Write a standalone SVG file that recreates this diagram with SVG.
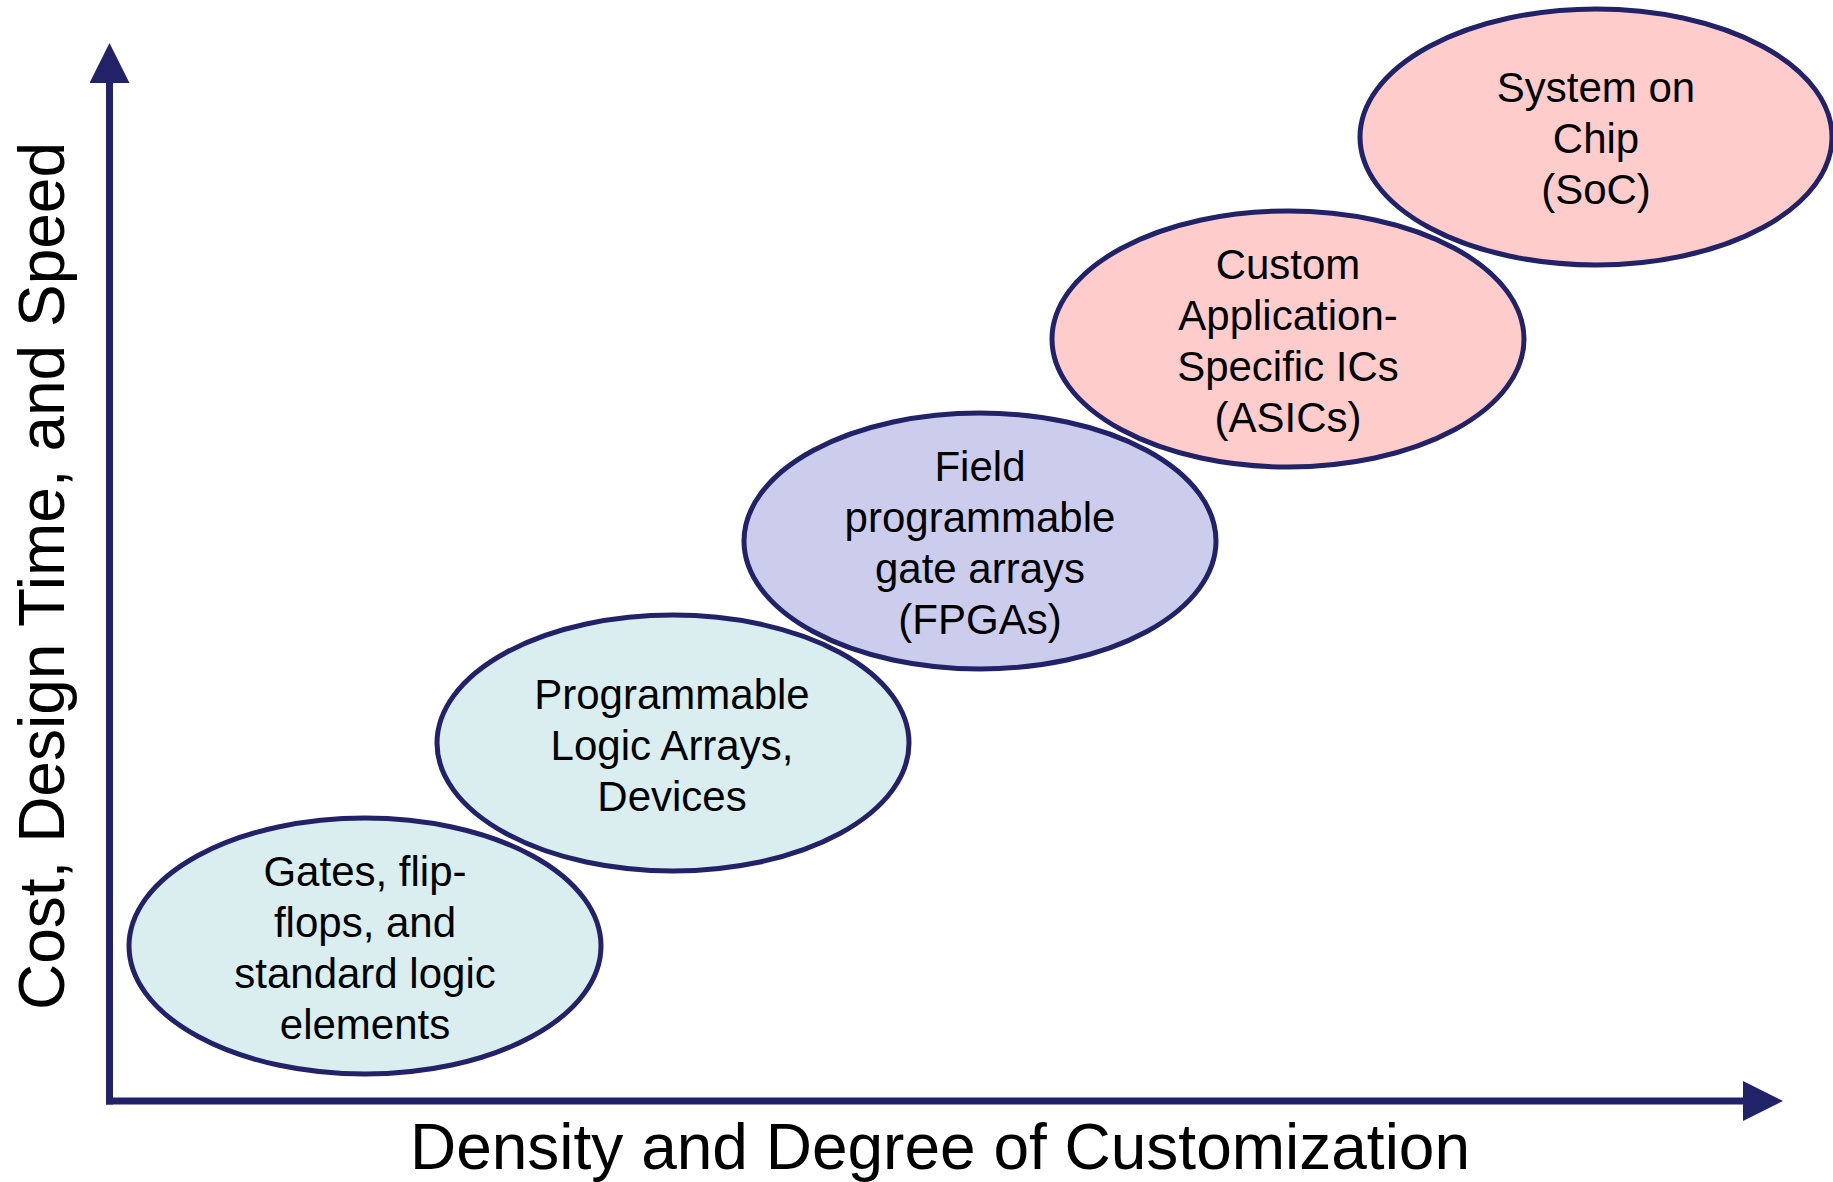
<svg xmlns="http://www.w3.org/2000/svg" width="1833" height="1182" viewBox="0 0 1833 1182">
<style>
.node ellipse{stroke:#222268;stroke-width:5}
.blue{fill:#DAEDEF}
.lav{fill:#CCCCEC}
.pink{fill:#FFCCCC}
.lbl{font-family:"Liberation Sans",Arial,sans-serif;font-size:42px;fill:#000;text-anchor:middle}
.axis{font-family:"Liberation Sans",Arial,sans-serif;font-size:64px;fill:#000;text-anchor:middle}
.ax{stroke:#222268;stroke-width:7;fill:none}
</style>
<defs>
<marker id="arr" markerUnits="userSpaceOnUse" markerWidth="40" markerHeight="40" refX="0" refY="20" orient="auto" viewBox="0 0 40 40">
<path d="M0,0 L40,20 L0,40 z" fill="#222268"/>
</marker>
</defs>
<rect width="1833" height="1182" fill="#fff"/>
<g id="connectors">
<line class="ax" x1="109.5" y1="1104.5" x2="109.5" y2="83" marker-end="url(#arr)"/>
<line class="ax" x1="106" y1="1101" x2="1743" y2="1101" marker-end="url(#arr)"/>
</g>
<g id="node-gates" class="node">
<ellipse class="blue" cx="365" cy="946" rx="236" ry="128"/>
<text class="lbl"><tspan x="365" y="886">Gates, flip-</tspan><tspan x="365" y="937">flops, and</tspan><tspan x="365" y="988">standard logic</tspan><tspan x="365" y="1039">elements</tspan></text>
</g>
<g id="node-pla" class="node">
<ellipse class="blue" cx="673" cy="743" rx="236" ry="128"/>
<text class="lbl"><tspan x="672" y="709">Programmable</tspan><tspan x="672" y="760">Logic Arrays,</tspan><tspan x="672" y="811">Devices</tspan></text>
</g>
<g id="node-fpga" class="node">
<ellipse class="lav" cx="980" cy="541" rx="236" ry="128"/>
<text class="lbl"><tspan x="980" y="481">Field</tspan><tspan x="980" y="532">programmable</tspan><tspan x="980" y="583">gate arrays</tspan><tspan x="980" y="634">(FPGAs)</tspan></text>
</g>
<g id="node-asic" class="node">
<ellipse class="pink" cx="1288" cy="339" rx="236" ry="128"/>
<text class="lbl"><tspan x="1288" y="279">Custom</tspan><tspan x="1288" y="330">Application-</tspan><tspan x="1288" y="381">Specific ICs</tspan><tspan x="1288" y="432">(ASICs)</tspan></text>
</g>
<g id="node-soc" class="node">
<ellipse class="pink" cx="1596" cy="137" rx="236" ry="128"/>
<text class="lbl"><tspan x="1596" y="102">System on</tspan><tspan x="1596" y="153">Chip</tspan><tspan x="1596" y="204">(SoC)</tspan></text>
</g>
<g id="axis-labels">
<text class="axis" x="940" y="1169">Density and Degree of Customization</text>
<text class="axis" transform="translate(64,576) rotate(-90)" x="0" y="0">Cost, Design Time, and Speed</text>
</g>
</svg>
